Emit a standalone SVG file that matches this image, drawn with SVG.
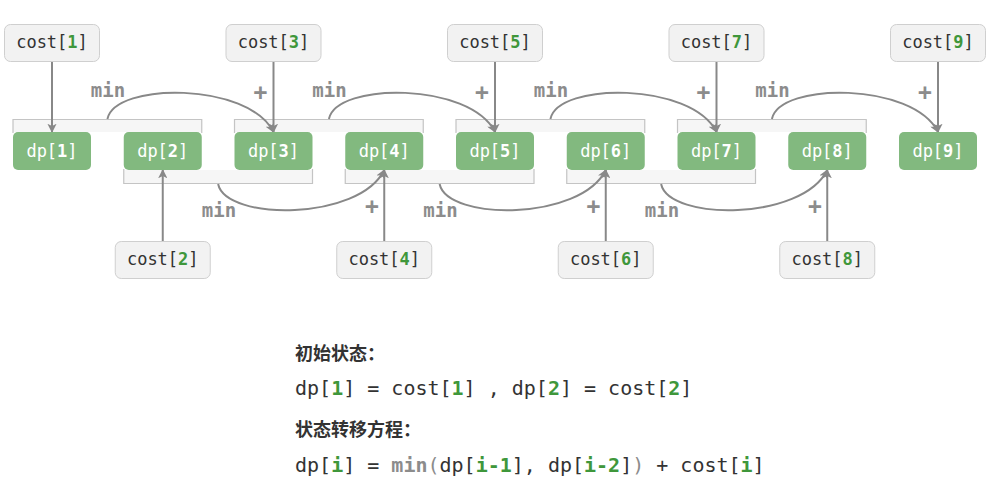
<svg xmlns="http://www.w3.org/2000/svg" width="1006" height="488" viewBox="0 0 1006 488">
<defs>
<marker id="ah" viewBox="0 0 10 10" refX="9" refY="5" markerWidth="4.6" markerHeight="4.6" orient="auto" markerUnits="strokeWidth">
<path d="M0,0 L10,5 L0,10 L2.5,5 Z" fill="#888"/>
</marker>
</defs>
<style>
.dp{fill:#82b97f;}
.dpt{font-family:"DejaVu Sans Mono",monospace;font-size:17px;fill:#ffffff;text-anchor:middle;}
.cb{fill:#f2f2f2;stroke:#cfcfcf;stroke-width:1;}
.ct{font-family:"DejaVu Sans Mono",monospace;font-size:17px;fill:#333;text-anchor:middle;}
.g{fill:#3f973b;font-weight:bold;}
.w{font-weight:bold;}
.br{fill:#f6f6f6;}
.brl{fill:none;stroke:#c4c4c4;stroke-width:1.2;}
.con{fill:none;stroke:#888;stroke-width:2;marker-end:url(#ah);}
.lbl{font-family:"DejaVu Sans Mono",monospace;font-size:19px;font-weight:bold;fill:#8c8c8c;text-anchor:middle;}
.pl{font-size:23px;}
.hd{font-family:"Noto Sans CJK SC","Noto Sans",sans-serif;font-size:18px;font-weight:bold;fill:#333;}
.eq{font-family:"DejaVu Sans Mono",monospace;font-size:20px;fill:#333;}
.gm{fill:#8c8c8c;font-weight:bold;}
.gp{fill:#8c8c8c;}
</style>

<g id="brackets">
<rect class="br" x="13" y="119" width="188.75" height="13"/>
<path class="brl" d="M13,133 V119.5 H201.75 V133"/>
<rect class="br" x="234.5" y="119" width="188.75" height="13"/>
<path class="brl" d="M234.5,133 V119.5 H423.25 V133"/>
<rect class="br" x="456" y="119" width="188.75" height="13"/>
<path class="brl" d="M456,133 V119.5 H644.75 V133"/>
<rect class="br" x="677.5" y="119" width="188.75" height="13"/>
<path class="brl" d="M677.5,133 V119.5 H866.25 V133"/>
<rect class="br" x="123.75" y="170" width="188.75" height="14"/>
<path class="brl" d="M123.75,169 V183.5 H312.5 V169"/>
<rect class="br" x="345.25" y="170" width="188.75" height="14"/>
<path class="brl" d="M345.25,169 V183.5 H534 V169"/>
<rect class="br" x="566.75" y="170" width="188.75" height="14"/>
<path class="brl" d="M566.75,169 V183.5 H755.5 V169"/>
</g>

<g id="connectors">
<path class="con" d="M52,62 V132"/>
<path class="con" d="M273.5,62 V132"/>
<path class="con" d="M495,62 V132"/>
<path class="con" d="M716.5,62 V132"/>
<path class="con" d="M938,62 V132"/>
<path class="con" d="M162.75,241 V170"/>
<path class="con" d="M384.25,241 V170"/>
<path class="con" d="M605.75,241 V170"/>
<path class="con" d="M827.25,241 V170"/>
<path class="con" d="M107.4,119 C115,82 248.5,82 273.5,132"/>
<path class="con" d="M328.9,119 C336.5,82 470,82 495,132"/>
<path class="con" d="M550.4,119 C558,82 691.5,82 716.5,132"/>
<path class="con" d="M771.9,119 C779.5,82 913,82 938,132"/>
<path class="con" d="M218.1,184 C226,221 359.25,221 384.25,170"/>
<path class="con" d="M439.6,184 C447.5,221 580.75,221 605.75,170"/>
<path class="con" d="M661.1,184 C669,221 802.25,221 827.25,170"/>
</g>

<g id="labels">
<text class="lbl" x="108" y="97">min</text>
<text class="lbl" x="329.5" y="97">min</text>
<text class="lbl" x="551" y="97">min</text>
<text class="lbl" x="772.5" y="97">min</text>
<text class="lbl" x="219" y="217">min</text>
<text class="lbl" x="440.5" y="217">min</text>
<text class="lbl" x="662" y="217">min</text>
<text class="lbl pl" x="260.5" y="100">+</text>
<text class="lbl pl" x="482" y="100">+</text>
<text class="lbl pl" x="703.5" y="100">+</text>
<text class="lbl pl" x="925" y="100">+</text>
<text class="lbl pl" x="372" y="214">+</text>
<text class="lbl pl" x="593.5" y="214">+</text>
<text class="lbl pl" x="815" y="214">+</text>
</g>

<g id="dp1"><rect class="dp" x="13" y="132" width="78" height="38" rx="5"/><text class="dpt" x="52" y="157">dp[<tspan class="w">1</tspan>]</text></g>
<g id="dp2"><rect class="dp" x="123.75" y="132" width="78" height="38" rx="5"/><text class="dpt" x="162.75" y="157">dp[<tspan class="w">2</tspan>]</text></g>
<g id="dp3"><rect class="dp" x="234.5" y="132" width="78" height="38" rx="5"/><text class="dpt" x="273.5" y="157">dp[<tspan class="w">3</tspan>]</text></g>
<g id="dp4"><rect class="dp" x="345.25" y="132" width="78" height="38" rx="5"/><text class="dpt" x="384.25" y="157">dp[<tspan class="w">4</tspan>]</text></g>
<g id="dp5"><rect class="dp" x="456" y="132" width="78" height="38" rx="5"/><text class="dpt" x="495" y="157">dp[<tspan class="w">5</tspan>]</text></g>
<g id="dp6"><rect class="dp" x="566.75" y="132" width="78" height="38" rx="5"/><text class="dpt" x="605.75" y="157">dp[<tspan class="w">6</tspan>]</text></g>
<g id="dp7"><rect class="dp" x="677.5" y="132" width="78" height="38" rx="5"/><text class="dpt" x="716.5" y="157">dp[<tspan class="w">7</tspan>]</text></g>
<g id="dp8"><rect class="dp" x="788.25" y="132" width="78" height="38" rx="5"/><text class="dpt" x="827.25" y="157">dp[<tspan class="w">8</tspan>]</text></g>
<g id="dp9"><rect class="dp" x="899" y="132" width="78" height="38" rx="5"/><text class="dpt" x="938" y="157">dp[<tspan class="w">9</tspan>]</text></g>

<g id="cost1"><rect class="cb" x="4.5" y="24.5" width="95" height="37" rx="6"/><text class="ct" x="52" y="48">cost[<tspan class="g">1</tspan>]</text></g>
<g id="cost3"><rect class="cb" x="226" y="24.5" width="95" height="37" rx="6"/><text class="ct" x="273.5" y="48">cost[<tspan class="g">3</tspan>]</text></g>
<g id="cost5"><rect class="cb" x="447.5" y="24.5" width="95" height="37" rx="6"/><text class="ct" x="495" y="48">cost[<tspan class="g">5</tspan>]</text></g>
<g id="cost7"><rect class="cb" x="669" y="24.5" width="95" height="37" rx="6"/><text class="ct" x="716.5" y="48">cost[<tspan class="g">7</tspan>]</text></g>
<g id="cost9"><rect class="cb" x="890.5" y="24.5" width="95" height="37" rx="6"/><text class="ct" x="938" y="48">cost[<tspan class="g">9</tspan>]</text></g>
<g id="cost2"><rect class="cb" x="115.25" y="241.5" width="95" height="37" rx="6"/><text class="ct" x="162.75" y="265">cost[<tspan class="g">2</tspan>]</text></g>
<g id="cost4"><rect class="cb" x="336.75" y="241.5" width="95" height="37" rx="6"/><text class="ct" x="384.25" y="265">cost[<tspan class="g">4</tspan>]</text></g>
<g id="cost6"><rect class="cb" x="558.25" y="241.5" width="95" height="37" rx="6"/><text class="ct" x="605.75" y="265">cost[<tspan class="g">6</tspan>]</text></g>
<g id="cost8"><rect class="cb" x="779.75" y="241.5" width="95" height="37" rx="6"/><text class="ct" x="827.25" y="265">cost[<tspan class="g">8</tspan>]</text></g>

<g id="formula">
<text class="hd" x="295" y="360">初始状态：</text>
<text class="eq" x="295" y="395">dp[<tspan class="g">1</tspan>] = cost[<tspan class="g">1</tspan>] , dp[<tspan class="g">2</tspan>] = cost[<tspan class="g">2</tspan>]</text>
<text class="hd" x="295" y="436">状态转移方程：</text>
<text class="eq" x="295" y="472">dp[<tspan class="g">i</tspan>] = <tspan class="gm">min</tspan><tspan class="gp">(</tspan>dp[<tspan class="g">i-1</tspan>], dp[<tspan class="g">i-2</tspan>]<tspan class="gp">)</tspan> + cost[<tspan class="g">i</tspan>]</text>
</g>
</svg>
